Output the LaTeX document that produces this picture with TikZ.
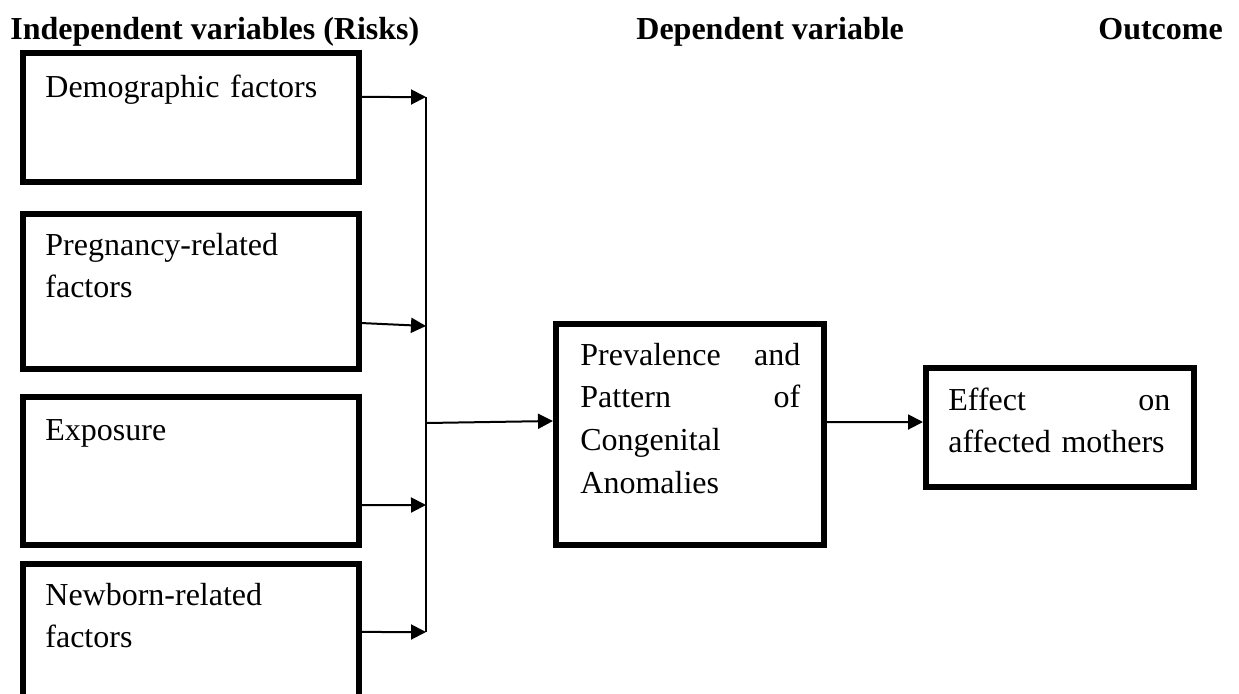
\documentclass[tikz,border=0pt]{standalone}
\usepackage{fontspec}
\setmainfont{Liberation Serif}
\usetikzlibrary{arrows.meta,calc}
\begin{document}
\begin{tikzpicture}[x=0.5pt,y=-0.5pt,
  box/.style={draw=black, line width=3pt, inner sep=0pt, anchor=north west},
  txt/.style={inner sep=0pt, anchor=base west, text width=150pt, align=left,
              font=\fontsize{16pt}{21.4pt}\selectfont},
  head/.style={inner sep=0pt, anchor=base west, font=\fontsize{16pt}{21.4pt}\selectfont\bfseries},
  arr/.style={line width=1pt, -{Triangle[length=7.5pt,width=7.5pt]}},
  bus/.style={line width=0.6pt}]
\useasboundingbox (0,0) rectangle (1239,693);
\clip (0,0) rectangle (1239,693);

% headings
\node[head] (h1) at (10,39) {Independent variables (Risks)};
\node[head] (h2) at (636,39) {Dependent variable};
\node[head] (h3) at (1098,39) {Outcome};

% left boxes
\node[box, minimum width=168pt, minimum height=64.5pt] (b1) at (20,50) {};
\node[box, minimum width=168pt, minimum height=77.5pt] (b2) at (20,211) {};
\node[box, minimum width=168pt, minimum height=74pt]   (b3) at (20,394) {};
\node[box, minimum width=168pt, minimum height=75pt]   (b4) at (20,561) {};

\node[txt] (t1) at (45,97) {Demographic factors};
\node[txt] (t2) at (45,255) {Pregnancy-related\\factors};
\node[txt] (t3) at (45,440) {Exposure};
\node[txt] (t4) at (45,605) {Newborn-related\\factors};

% centre and right boxes
\node[box, minimum width=134pt, minimum height=110.5pt] (c) at (553,321) {};
\node[box, minimum width=134pt, minimum height=59.5pt]  (r) at (923,365) {};

\node[txt] (tc) at (580,365) {\makebox[110pt]{Prevalence\hfill and}\\\makebox[110pt]{Pattern\hfill of}\\Congenital\\Anomalies};
\node[txt] (tr) at (948,410) {\makebox[111pt]{Effect\hfill on}\\affected mothers};

% bus
\coordinate (v1) at (426,97);
\coordinate (v2) at (426,326);
\coordinate (v3) at (426,505);
\coordinate (v4) at (426,632);
\coordinate (vm) at (426,423);
\draw[bus] (v1) -- (v4);

% arrows
\draw[arr] ($(b1.north east)!0.348!(b1.south east)$) -- (v1);
\draw[arr] ($(b2.north east)!0.696!(b2.south east)$) -- (v2);
\draw[arr] ($(b3.north east)!0.721!(b3.south east)$) -- (v3);
\draw[arr] ($(b4.north east)!0.455!(b4.south east)$) -- (v4);
\draw[arr] (vm) -- ($(c.north west)!0.4405!(c.south west)$);
\draw[arr] ($(c.north east)!0.445!(c.south east)$) -- ($(r.north west)!0.456!(r.south west)$);
\end{tikzpicture}
\end{document}
